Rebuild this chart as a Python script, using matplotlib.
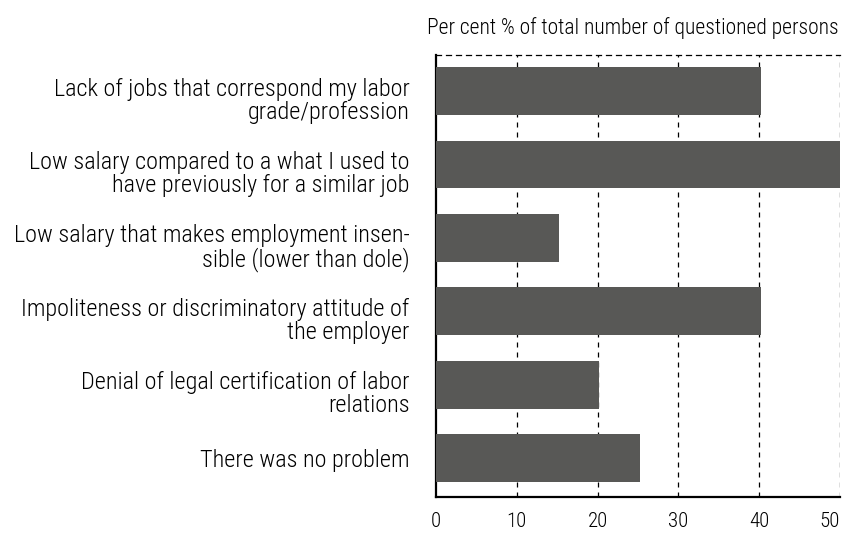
import matplotlib.pyplot as plt
from matplotlib.transforms import ScaledTranslation

# -------------------------------
# Datos del gráfico
categorias = [
    "Lack of jobs that correspond my labor\ngrade/profession",
    "Low salary compared to a what I used to\nhave previously for a similar job",
    "Low salary that makes employment insen-\nsible (lower than dole)",
    "Impoliteness or discriminatory attitude of\nthe employer",
    "Denial of legal certification of labor\nrelations",
    "There was no problem",
]
valores = [40.2, 50, 15.2, 40.2, 20.2, 25.2]
ticks_x = [0, 10, 20, 30, 40, 50]

plt.rcParams['font.family'] = ['Roboto Condensed', 'DejaVu Sans']
plt.rcParams['font.weight'] = 300

fig = plt.figure(figsize=(8.45, 5.35), dpi=100)
ax = fig.add_axes([0.516, 0.071, 0.478, 0.826])

pos = list(range(len(categorias)))
ax.barh(pos, valores, height=0.65, color='#585856', zorder=3)

ax.set_xlim(0, 50)
ax.set_ylim(5.53, -0.49)
ax.set_xticks(ticks_x)
ax.set_xticklabels([str(t) for t in ticks_x], fontsize=15, fontweight=300)
# la última etiqueta se alinea a la derecha para que no se corte
ax.get_xticklabels()[-1].set_horizontalalignment('right')
ax.set_yticks(pos)
ax.set_yticklabels(categorias, fontsize=17.5, fontweight=300, linespacing=1.0)
ax.tick_params(axis='x', length=0, pad=11)
ax.tick_params(axis='y', length=0, pad=19)

# las etiquetas de dos líneas van un poco más abajo, como en el original
desplazar = ScaledTranslation(0, -5 / 72, fig.dpi_scale_trans)
for etiqueta in ax.get_yticklabels():
    if "\n" in etiqueta.get_text():
        etiqueta.set_transform(etiqueta.get_transform() + desplazar)

# rejilla punteada
for t in ticks_x[1:]:
    ax.axvline(t, color='black', linestyle=(0, (4, 4)), linewidth=0.9, zorder=2)

ax.spines['left'].set_linewidth(1.6)
ax.spines['bottom'].set_linewidth(1.6)
ax.spines['top'].set_linestyle((0, (4, 4)))
ax.spines['top'].set_linewidth(0.9)
ax.spines['right'].set_visible(False)

fig.text(0.992, 0.947, "Per cent % of total number of questioned persons",
         ha='right', va='center', fontsize=15.5, fontweight=300)

fig.savefig("out.png", dpi=100)
